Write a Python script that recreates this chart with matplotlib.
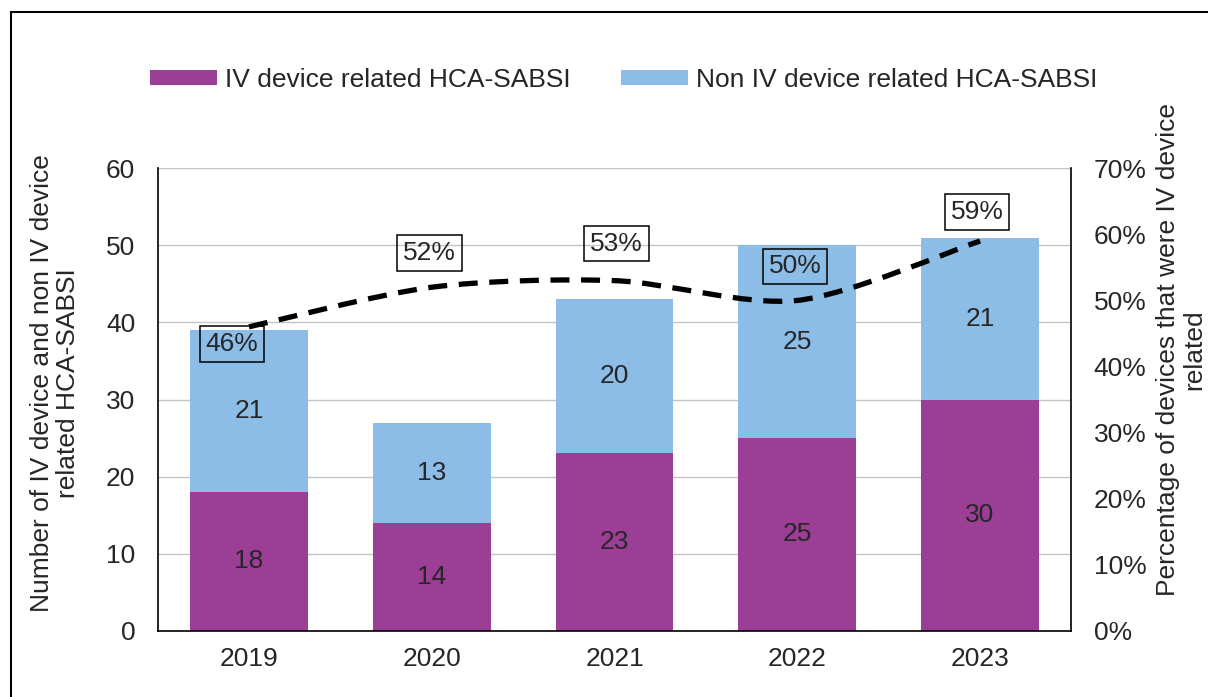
import matplotlib
matplotlib.use("Agg")
import matplotlib.pyplot as plt
from matplotlib.path import Path
from matplotlib.patches import PathPatch, Rectangle
from matplotlib.ticker import FuncFormatter, MultipleLocator

# --- data -------------------------------------------------------------
years = ["2019", "2020", "2021", "2022", "2023"]
iv_related = [18, 14, 23, 25, 30]
non_iv_related = [21, 13, 20, 25, 21]
pct_iv = [46, 52, 53, 50, 59]          # % of devices that were IV device related

# --- style ------------------------------------------------------------
PURPLE = "#9C3D96"
BLUE = "#8CBDE6"
TXT = "#262626"
GRID = "#C4C4C4"
FS = 19
# label offsets (pixels) for the percentage boxes
label_offsets = [(-17, -17), (-2, 34), (2, 37), (-2, 34), (-3, 29)]

plt.rcParams["font.family"] = ["Liberation Sans", "DejaVu Sans"]
plt.rcParams["text.color"] = TXT

fig = plt.figure(figsize=(12.08, 6.97), dpi=100)
ax = fig.add_axes([0.1304, 0.0951, 0.887 - 0.1304, 0.7585 - 0.0951])
ax2 = ax.twinx()

x = list(range(len(years)))
width = 0.645
b1 = ax.bar(x, iv_related, width, color=PURPLE, label="IV device related HCA-SABSI", zorder=2)
b2 = ax.bar(x, non_iv_related, width, bottom=iv_related, color=BLUE,
            label="Non IV device related HCA-SABSI", zorder=2)

# value labels in the middle of each segment
for xi, a, b in zip(x, iv_related, non_iv_related):
    ax.text(xi, a / 2, f"{a}", ha="center", va="center", fontsize=FS, color=TXT, zorder=3)
    ax.text(xi, a + b / 2, f"{b}", ha="center", va="center", fontsize=FS, color=TXT, zorder=3)

ax.set_xlim(-0.5, len(years) - 0.5)
ax.set_ylim(0, 60)
ax.yaxis.set_major_locator(MultipleLocator(10))
ax.set_xticks(x)
ax.set_xticklabels(years)
ax.grid(axis="y", color=GRID, linewidth=1.0, zorder=0)
ax.set_axisbelow(True)
ax.tick_params(axis="both", length=0, labelsize=FS, labelcolor=TXT)
ax.tick_params(axis="y", pad=16)
ax.tick_params(axis="x", pad=11.5)
for side in ("left", "bottom"):
    ax.spines[side].set_color("black")
    ax.spines[side].set_linewidth(1.2)
ax.spines["top"].set_visible(False)
ax.spines["right"].set_visible(False)

# secondary axis: percentage
ax2.set_ylim(0, 70)
ax2.yaxis.set_major_locator(MultipleLocator(10))
ax2.yaxis.set_major_formatter(FuncFormatter(lambda v, _: f"{v:.0f}%"))
ax2.tick_params(axis="y", length=0, labelsize=FS, labelcolor=TXT, pad=16)
ax2.spines["right"].set_color("black")
ax2.spines["right"].set_linewidth(1.2)
for side in ("top", "left", "bottom"):
    ax2.spines[side].set_visible(False)

# smoothed dashed line through the percentages (cubic Bezier segments)
pts = list(zip(x, pct_iv))
verts = [pts[0]]
codes = [Path.MOVETO]
n = len(pts)
k = 1 / 7
for i in range(n - 1):
    p0 = pts[i - 1] if i > 0 else pts[i]
    p1 = pts[i]
    p2 = pts[i + 1]
    p3 = pts[i + 2] if i + 2 < n else pts[i + 1]
    c1 = (p1[0] + (p2[0] - p0[0]) * k, p1[1] + (p2[1] - p0[1]) * k)
    c2 = (p2[0] - (p3[0] - p1[0]) * k, p2[1] - (p3[1] - p1[1]) * k)
    verts += [c1, c2, p2]
    codes += [Path.CURVE4] * 3
line = PathPatch(Path(verts, codes), facecolor="none", edgecolor="black",
                 linewidth=3.8, linestyle=(0, (3.6, 2.2)), capstyle="butt", zorder=4)
ax2.add_patch(line)

for xi, p, (dx, dy) in zip(x, pct_iv, label_offsets):
    ax2.annotate(f"{p}%", (xi, p), xytext=(dx, dy), textcoords="offset pixels",
                 ha="center", va="center", fontsize=FS, color=TXT, zorder=5,
                 bbox=dict(boxstyle="square,pad=0.22", facecolor="none",
                           edgecolor="black", linewidth=1.1))

# axis titles
fig.text(55 / 1208, 1 - 383 / 697,
         "Number of IV device and non IV device\nrelated HCA-SABSI",
         rotation=90, ha="center", va="center", multialignment="center",
         fontsize=FS, color=TXT, linespacing=1.12)
fig.text(1181 / 1208, 1 - 350 / 697,
         "Percentage of devices that were IV device\nrelated",
         rotation=90, ha="center", va="center", multialignment="center",
         fontsize=FS, color=TXT, linespacing=1.12)

# legend across the top
handles = [b1, b2]
fig.legend(handles, [h.get_label() for h in handles], loc="center",
           bbox_to_anchor=(623.5 / 1208, 1 - 80 / 697), ncol=2, frameon=False,
           fontsize=FS, handlelength=2.55, handleheight=0.5, handletextpad=0.3,
           columnspacing=1.9, labelcolor=TXT)

# outer chart border
fig.patches.append(Rectangle((11 / 1208, -0.2), 2.0, 1.2 - 12.5 / 697,
                             transform=fig.transFigure, fill=False,
                             edgecolor="black", linewidth=1.5, clip_on=False))

fig.savefig("out.png", dpi=100)
